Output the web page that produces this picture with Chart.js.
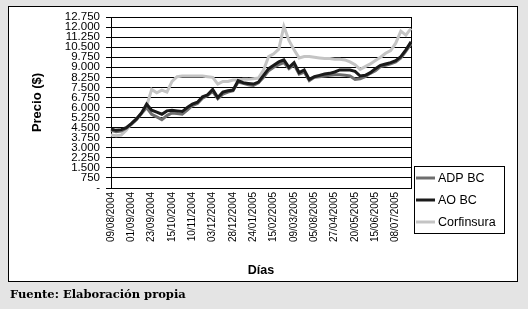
<!DOCTYPE html>
<html>
<head>
<meta charset="utf-8">
<script src="https://cdn.jsdelivr.net/npm/chart.js@4/dist/chart.umd.min.js"></script>
<style>
  html, body { margin: 0; padding: 0; background: #e4e4e4; }
  #wrap { position: relative; width: 528px; height: 309px; }
  #box { position: absolute; left: 8px; top: 6px; width: 508px; height: 274px; background: #fff; border: 1px solid #000; }
  #holder { position: absolute; left: 0; top: 0; width: 528px; height: 309px; }
  #fuente { position: absolute; left: 10px; top: 287px; font: bold 11.5px "DejaVu Serif", serif; color: #000; }
</style>
</head>
<body>
<div id="wrap">
  <div id="box"></div>
  <div id="holder"><canvas id="precios"></canvas></div>
  <div id="fuente">Fuente: Elaboración propia</div>
</div>
<script>
// tick labels shown on the x axis (one every 4 points)
const dias = ["09/08/2004", "01/09/2004", "23/09/2004", "15/10/2004", "10/11/2004",
  "03/12/2004", "28/12/2004", "24/01/2005", "15/02/2005", "09/03/2005",
  "05/08/2005", "27/04/2005", "20/05/2005", "15/06/2005", "08/07/2005"];
const puntosPorEtiqueta = 4;

const yTicks = [0, 750, 1500, 2250, 3000, 3750, 4500, 5250, 6000, 6750, 7500,
  8250, 9000, 9750, 10500, 11250, 12000, 12750];

const adpBC = [4300, 4200, 4250, 4450, 4750, 5100, 5550, 6000, 5500, 5300,
  5100, 5400, 5600, 5550, 5500, 5800, 6150, 6300, 6700, 6900,
  7200, 6650, 7000, 7150, 7250, 7900, 7800, 7700, 7650, 7850,
  8250, 8750, 9000, 9200, 9350, 8900, 9200, 8500, 8650, 8000,
  8250, 8300, 8350, 8400, 8450, 8450, 8400, 8350, 8100, 8150,
  8300, 8550, 8750, 9050, 9150, 9250, 9400, 9700, 10200, 10750];

const aoBC = [4400, 4300, 4350, 4500, 4800, 5150, 5600, 6250, 5800, 5650,
  5500, 5750, 5800, 5750, 5700, 6000, 6250, 6400, 6800, 6950,
  7350, 6750, 7150, 7250, 7300, 8000, 7850, 7800, 7750, 7900,
  8400, 8900, 9150, 9400, 9550, 9000, 9350, 8600, 8800, 8100,
  8300, 8400, 8500, 8550, 8650, 8800, 8800, 8800, 8700, 8350,
  8400, 8600, 8900, 9150, 9250, 9350, 9500, 9800, 10300, 10900];

const corfinsura = [3950, 3900, 3950, 4300, 4800, 5150, 5600, 6100, 7350, 7100,
  7300, 7150, 7950, 8300, 8350, 8350, 8350, 8350, 8350, 8300,
  8250, 7750, 7950, 7950, 8050, 8050, 8100, 8100, 8150, 8200,
  8800, 9800, 10000, 10350, 12050, 11000, 10300, 9700, 9800, 9800,
  9750, 9700, 9650, 9650, 9600, 9600, 9550, 9400, 9200, 8850,
  9050, 9250, 9500, 9750, 10050, 10250, 10800, 11700, 11400, 11900];

const labels = aoBC.map((_, i) => i % puntosPorEtiqueta === 0 ? (dias[i / puntosPorEtiqueta] || "") : "");

function miles(v) {
  if (v === 0) return "-";
  return String(v).replace(/\B(?=(\d{3})+(?!\d))/g, ".");
}

// legend drawn as a framed box like the original
const legendBox = {
  id: "legendBox",
  afterDraw(chart) {
    const { ctx } = chart;
    ctx.save();
    ctx.strokeStyle = "#000";
    ctx.lineWidth = 1;
    ctx.strokeRect(414.5, 166.5, 90, 67);
    chart.data.datasets.forEach((ds, i) => {
      const y = 178 + i * 22;
      ctx.strokeStyle = ds.borderColor;
      ctx.lineWidth = 3;
      ctx.beginPath();
      ctx.moveTo(416, y);
      ctx.lineTo(435, y);
      ctx.stroke();
      ctx.fillStyle = "#000";
      ctx.font = "12.5px 'Liberation Sans'";
      ctx.textBaseline = "middle";
      ctx.fillText(ds.label, 438, y + 1);
    });
    ctx.restore();
  }
};

const ctx = document.getElementById("precios").getContext("2d");
new Chart(ctx, {
  type: "line",
  data: {
    labels: labels,
    datasets: [
      { label: "ADP BC", data: adpBC, borderColor: "#6e6e6e", borderWidth: 3, pointRadius: 0, order: 1 },
      { label: "AO BC", data: aoBC, borderColor: "#1a1a1a", borderWidth: 3, pointRadius: 0, order: 0 },
      { label: "Corfinsura", data: corfinsura, borderColor: "#c4c4c4", borderWidth: 3, pointRadius: 0, order: 2 }
    ]
  },
  options: {
    responsive: true,
    maintainAspectRatio: false,
    animation: false,
    layout: { padding: { left: 0, top: 17, right: 117, bottom: 31 } },
    elements: { line: { tension: 0 } },
    scales: {
      x: {
        offset: false,
        grid: {
          drawTicks: false,
          color: c => c.index === labels.length - 1 ? "#000" : "transparent"
        },
        border: { color: "#000", width: 1 },
        ticks: {
          autoSkip: false,
          minRotation: 90,
          maxRotation: 90,
          padding: 4,
          color: "#000",
          font: { size: 10, family: "Liberation Sans" }
        },
        title: {
          display: true,
          text: "Días",
          color: "#000",
          padding: { top: 0, bottom: 0 },
          font: { size: 12.5, weight: "bold", family: "Liberation Sans" }
        },
        afterFit: s => { s.height = 90; }
      },
      y: {
        min: 0,
        max: 12750,
        afterBuildTicks: s => { s.ticks = yTicks.map(v => ({ value: v })); },
        grid: { color: "#000", lineWidth: 1, tickLength: 5 },
        border: { color: "#000", width: 1 },
        ticks: {
          autoSkip: false,
          padding: 6,
          color: "#000",
          font: { size: 11.5, family: "Liberation Sans", lineHeight: 0.8 },
          callback: v => miles(v)
        },
        title: {
          display: true,
          text: "Precio ($)",
          color: "#000",
          padding: { top: 30, bottom: 0 },
          font: { size: 13, weight: "bold", family: "Liberation Sans" }
        },
        afterFit: s => { s.width = 111; }
      }
    },
    plugins: {
      legend: { display: false },
      tooltip: { enabled: false }
    }
  },
  plugins: [legendBox]
});
</script>
</body>
</html>
